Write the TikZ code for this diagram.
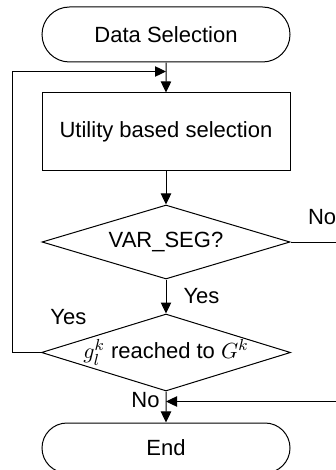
\documentclass[tikz,border=0pt]{standalone}
\usepackage{fontspec}
\setmainfont{Liberation Sans}
\usetikzlibrary{shapes.geometric, shapes.misc, arrows.meta, positioning}

\begin{document}
\begin{tikzpicture}[
			x=1pt, y=1pt,
			line width=0.5pt,
			>={Triangle[width=5.2pt,length=5.5pt]},
			term/.style={rounded rectangle, draw, minimum width=124pt, inner sep=0pt, font=\fontsize{11}{13}\selectfont},
			proc/.style={rectangle, draw, minimum width=124pt, minimum height=39pt, inner sep=0pt, font=\fontsize{11}{13}\selectfont},
			dec/.style={diamond, draw, aspect=3.3, minimum width=124pt, inner sep=0pt, font=\fontsize{11}{13}\selectfont},
			lbl/.style={inner sep=0pt, font=\fontsize{11}{13}\selectfont}
			]
			\useasboundingbox (0,0) rectangle (168,-235);
			
			% Flow
			\node[term, minimum height=27.5pt] (ds) at (83,-17.25) {Data Selection};
			\node[proc, below=15pt of ds] (util) {Utility based selection};
			\node[dec, minimum height=37pt, below=16.5pt of util] (vs) {VAR\_SEG?};
			\node[dec, minimum height=38.5pt, below=17pt of vs] (gk) {$g^k_l$ reached to $G^k$};
			\node[term, minimum height=25pt, below=15.5pt of gk] (end) {End};
			
			% Joints and edges
			\coordinate[below=4.5pt of ds.south] (fb);
			\coordinate[below=5pt of gk.south] (mrg);
			\coordinate (lft) at (6,0);
			\coordinate (rim) at (168,0);
			
			% Labels
			\node[lbl, above right=8.5pt and 8.5pt of vs.east] (no1) {No};
			\node[lbl, above right=13.5pt and 4.5pt of gk.west] (yes2) {Yes};
			\node[lbl, below left=0pt and 3pt of gk.south] (no2) {No};
			
			% Arrows
			\draw[->] (ds) -- (util);
			\draw[->] (util) -- (vs);
			\draw[->] (vs) -- node[lbl, right=8.5pt] (yes1) {Yes} (gk);
			\draw[->] (gk) -- (end);
			\draw (vs.east) -- (vs.east -| rim);
			\draw[->] (gk.west) -- (gk.west -| lft) |- (fb);
			\draw[->] (mrg -| rim) -- (mrg);
		\end{tikzpicture}
\end{document}
